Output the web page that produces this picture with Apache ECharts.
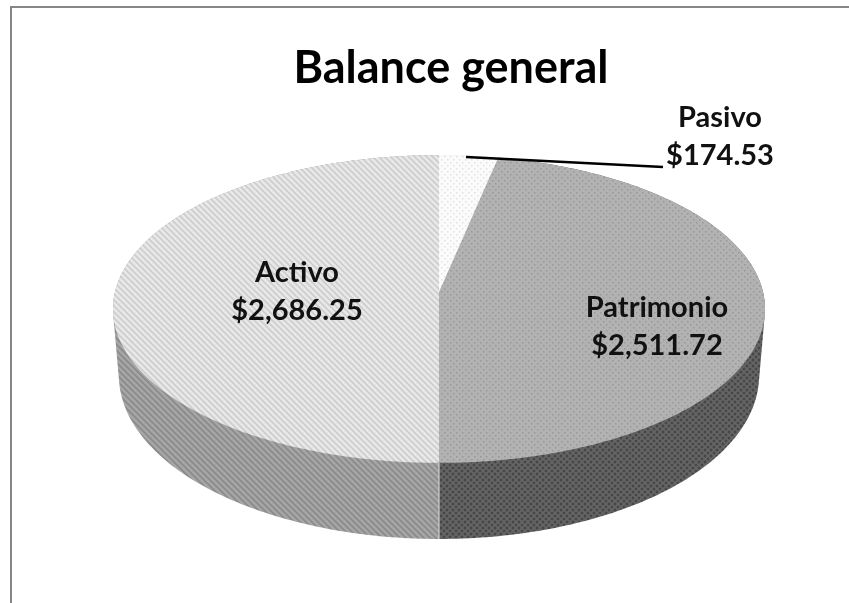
<!DOCTYPE html>
<html>
<head>
<meta charset="utf-8">
<script src="https://cdn.jsdelivr.net/npm/echarts@6/dist/echarts.min.js"></script>
<style>html,body{margin:0;padding:0;background:#fff}#main{width:849px;height:603px}</style>
</head>
<body>
<div id="main"></div>
<script>
// data
var categories = ['Pasivo', 'Patrimonio', 'Activo'];
var values = [174.53, 2511.72, 2686.25];

// hatch tiles
function tile(bg, ink, kind) {
  var c = document.createElement('canvas');
  c.width = 6; c.height = 6;
  var g = c.getContext('2d');
  g.fillStyle = bg;
  g.fillRect(0, 0, 6, 6);
  g.strokeStyle = ink;
  g.fillStyle = ink;
  g.lineWidth = 1.6;
  if (kind == 'dots') {
    g.fillRect(0, 0, 1.5, 1.5);
    g.fillRect(3, 3, 1.5, 1.5);
  }
  if (kind == 'diag' || kind == 'cross') {
    g.beginPath();
    g.moveTo(-1, -1); g.lineTo(7, 7);
    g.moveTo(-4, 2); g.lineTo(4, 10);
    g.moveTo(2, -4); g.lineTo(10, 4);
    g.stroke();
  }
  if (kind == 'cross') {
    g.beginPath();
    g.moveTo(7, -1); g.lineTo(-1, 7);
    g.moveTo(10, 2); g.lineTo(2, 10);
    g.moveTo(4, -4); g.lineTo(-4, 4);
    g.stroke();
  }
  return {image: c, repeat: 'repeat'};
}

var topFills = [tile('#fbfbfb', '#e2e2e2', 'dots'), tile('#b2b2b2', '#989898', 'dots'), tile('#e8e8e8', '#cdcdcd', 'diag')];
var wallFills = [tile('#dddddd', '#cccccc', 'dots'), tile('#474747', '#666666', 'cross'), tile('#a6a6a6', '#8a8a8a', 'diag')];

var total = values.reduce(function (a, b) { return a + b; }, 0);
var cx = 439, cy = 292, R = 324, H = 152, k = 0.1104;
var wallDrop = 65, wallShrinkX = 0.982, wallStretchY = 1.065;

// labels: centre of text block
var labelPos = [[720, 137], [657, 327], [297, 292]];
var leader = [[466, 157], [663, 167]];

// tilted disc, with a little perspective like the 3D pie
function project(theta, drop, sx, sy) {
  var X = Math.sin(theta), Z = Math.cos(theta), w = 1 + k * Z;
  return [cx + sx * R * X / w, cy + drop - sy * H * Z / w];
}

function arc(a0, a1, drop, sx, sy) {
  var pts = [], n = Math.max(2, Math.ceil((a1 - a0) * 60));
  for (var i = 0; i <= n; i++) {
    pts.push(project(a0 + (a1 - a0) * i / n, drop, sx, sy));
  }
  return pts;
}

function angles(idx) {
  var before = 0;
  for (var i = 0; i < idx; i++) before += values[i];
  return [before / total * 2 * Math.PI, (before + values[idx]) / total * 2 * Math.PI];
}

function money(v) {
  return '$' + v.toLocaleString('en-US', {minimumFractionDigits: 2, maximumFractionDigits: 2});
}

// wall outline = hull of rim and foot, so the sides run straight between them
function hull(points) {
  var p = points.slice().sort(function (a, b) { return a[0] - b[0] || a[1] - b[1]; });
  function half(list) {
    var out = [];
    list.forEach(function (q) {
      while (out.length > 1) {
        var a = out[out.length - 2], b = out[out.length - 1];
        if ((b[0] - a[0]) * (q[1] - a[1]) - (b[1] - a[1]) * (q[0] - a[0]) <= 0) out.pop();
        else break;
      }
      out.push(q);
    });
    out.pop();
    return out;
  }
  return half(p).concat(half(p.slice().reverse()));
}

var wallItem = function (params, api) {
  var a = angles(params.dataIndex);
  var upper = arc(a[0], a[1], 0, 1, 1);
  var lower = arc(a[0], a[1], wallDrop, wallShrinkX, wallStretchY);
  return {
    type: 'polygon',
    shape: {points: hull(upper.concat(lower))},
    style: {fill: wallFills[params.dataIndex]}
  };
};

var topItem = function (params, api) {
  var a = angles(params.dataIndex);
  var pts = [[cx, cy]].concat(arc(a[0], a[1], 0, 1, 1));
  return {
    type: 'polygon',
    shape: {points: pts},
    style: {fill: topFills[params.dataIndex]}
  };
};

var labelItem = function (params, api) {
  var i = params.dataIndex;
  return {
    type: 'text',
    x: labelPos[i][0],
    y: labelPos[i][1],
    style: {
      text: categories[i] + '\n' + money(api.value(1)),
      align: 'center',
      verticalAlign: 'middle',
      fontFamily: 'Lato',
      fontSize: 29,
      fontWeight: 'bold',
      lineHeight: 38,
      fill: '#111'
    }
  };
};

var rows = categories.map(function (c, i) { return [c, values[i]]; });

var myChart = echarts.init(document.getElementById('main'), null, {renderer: 'canvas'});
myChart.setOption({
  animation: false,
  backgroundColor: '#fff',
  title: {
    text: 'Balance general',
    left: 446,
    top: 41,
    textAlign: 'center',
    textStyle: {fontFamily: 'Lato', fontSize: 45, fontWeight: 'bold', color: '#000'}
  },
  graphic: [
    {type: 'rect', shape: {x: 11, y: 7, width: 900, height: 700}, style: {fill: 'none', stroke: '#868686', lineWidth: 2}, z: 0},
    // seam on the wall between the two big slices
    {type: 'line', shape: {x1: cx, y1: 463, x2: cx, y2: 539}, style: {stroke: '#dcdcdc', lineWidth: 1}, z: 20},
    {type: 'line', shape: {x1: leader[0][0], y1: leader[0][1], x2: leader[1][0], y2: leader[1][1]}, style: {stroke: '#000', lineWidth: 2.4}, z: 20}
  ],
  series: [
    {type: 'custom', coordinateSystem: 'none', renderItem: wallItem, data: rows, z: 2, silent: true},
    {type: 'custom', coordinateSystem: 'none', renderItem: topItem, data: rows, z: 3, silent: true},
    {type: 'custom', coordinateSystem: 'none', renderItem: labelItem, data: rows, z: 10, silent: true}
  ]
});
</script>
</body>
</html>
